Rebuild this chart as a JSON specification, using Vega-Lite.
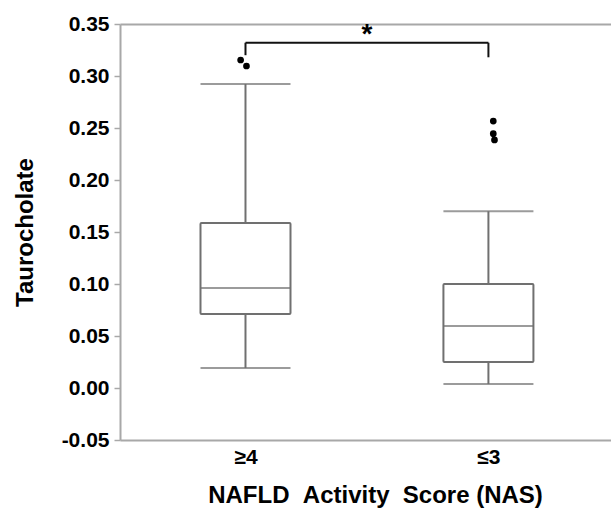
{
  "$schema": "https://vega.github.io/schema/vega-lite/v6.json",
  "width": 491,
  "height": 416,
  "autosize": {"type": "none"},
  "padding": {"left": 120, "top": 24, "right": 0, "bottom": 73},
  "background": "white",
  "config": {
    "view": {"stroke": null},
    "font": "Liberation Sans",
    "axis": {"grid": false}
  },
  "datasets": {
    "boxes": [
      {"g": 0, "group": "≥4", "lower": 0.0192, "q1": 0.0712, "median": 0.0962, "q3": 0.1587, "upper": 0.2923},
      {"g": 1, "group": "≤3", "lower": 0.0038, "q1": 0.025, "median": 0.0596, "q3": 0.100, "upper": 0.170}
    ],
    "outliers": [
      {"g": -0.02, "v": 0.3154},
      {"g": 0.004, "v": 0.3096},
      {"g": 1.02, "v": 0.2567},
      {"g": 1.02, "v": 0.2445},
      {"g": 1.025, "v": 0.2385}
    ],
    "bracket": [
      {"x": 0, "x2": 1, "y": 0.332, "y2": 0.332},
      {"x": 0, "x2": 0, "y": 0.320, "y2": 0.332},
      {"x": 1, "x2": 1, "y": 0.318, "y2": 0.332}
    ],
    "star": [{"x": 0.5, "y": 0.332, "label": "*"}]
  },
  "resolve": {"axis": {"x": "independent"}},
  "layer": [
    {
      "data": {"name": "boxes"},
      "mark": {"type": "rule", "color": "#707070", "strokeWidth": 2},
      "encoding": {
        "x": {
          "field": "g", "type": "quantitative",
          "scale": {"domain": [-0.496, 1.484], "nice": false, "zero": false},
          "axis": {
            "orient": "bottom",
            "values": [0, 1],
            "labelExpr": "datum.value == 0 ? '≥4' : '≤3'",
            "ticks": false,
            "domainColor": "#a8a8a8",
            "domainWidth": 2,
            "labelFont": "Liberation Sans",
            "labelFontWeight": "bold",
            "labelFontSize": 21,
            "labelColor": "#000000",
            "labelPadding": 6,
            "title": "NAFLD\u00a0\u00a0Activity\u00a0\u00a0Score (NAS)",
            "titleFont": "Liberation Sans",
            "titleFontWeight": "bold",
            "titleFontSize": 24,
            "titleColor": "#000000",
            "titlePadding": 16,
            "titleX": 255
          }
        },
        "y": {
          "field": "lower", "type": "quantitative",
          "scale": {"domain": [-0.05, 0.35], "nice": false, "zero": false},
          "axis": {
            "values": [-0.05, 0, 0.05, 0.1, 0.15, 0.2, 0.25, 0.3, 0.35],
            "labelExpr": "replace(format(datum.value, '.2f'), '−', '-')",
            "domainColor": "#a8a8a8",
            "domainWidth": 2,
            "tickColor": "#a8a8a8",
            "tickSize": 6,
            "tickWidth": 1.5,
            "labelFont": "Liberation Sans",
            "labelFontWeight": "bold",
            "labelFontSize": 21,
            "labelColor": "#000000",
            "labelPadding": 5,
            "title": "Taurocholate",
            "titleFont": "Liberation Sans",
            "titleFontWeight": "bold",
            "titleFontSize": 24,
            "titleColor": "#000000",
            "titlePadding": 24
          }
        },
        "y2": {"field": "q1"}
      }
    },
    {
      "data": {"name": "boxes"},
      "mark": {"type": "rule", "color": "#707070", "strokeWidth": 2},
      "encoding": {
        "x": {"field": "g", "type": "quantitative", "axis": null},
        "y": {"field": "q3", "type": "quantitative"},
        "y2": {"field": "upper"}
      }
    },
    {
      "data": {"name": "boxes"},
      "mark": {"type": "tick", "orient": "horizontal", "color": "#707070", "size": 90, "thickness": 2},
      "encoding": {
        "x": {"field": "g", "type": "quantitative", "axis": null},
        "y": {"field": "upper", "type": "quantitative"}
      }
    },
    {
      "data": {"name": "boxes"},
      "mark": {"type": "tick", "orient": "horizontal", "color": "#707070", "size": 90, "thickness": 2},
      "encoding": {
        "x": {"field": "g", "type": "quantitative", "axis": null},
        "y": {"field": "lower", "type": "quantitative"}
      }
    },
    {
      "data": {"name": "boxes"},
      "mark": {"type": "bar", "size": 90, "fill": "white", "stroke": "#707070", "strokeWidth": 2, "cornerRadius": 1},
      "encoding": {
        "x": {"field": "g", "type": "quantitative", "axis": null},
        "y": {"field": "q1", "type": "quantitative"},
        "y2": {"field": "q3"}
      }
    },
    {
      "data": {"name": "boxes"},
      "mark": {"type": "tick", "orient": "horizontal", "color": "#707070", "size": 90, "thickness": 2},
      "encoding": {
        "x": {"field": "g", "type": "quantitative", "axis": null},
        "y": {"field": "median", "type": "quantitative"}
      }
    },
    {
      "data": {"name": "outliers"},
      "mark": {"type": "circle", "color": "#000000", "opacity": 1, "size": 45},
      "encoding": {
        "x": {"field": "g", "type": "quantitative", "axis": null},
        "y": {"field": "v", "type": "quantitative"}
      }
    },
    {
      "data": {"name": "bracket"},
      "mark": {"type": "rule", "color": "#111111", "strokeWidth": 2},
      "encoding": {
        "x": {
          "field": "x", "type": "quantitative",
          "axis": {"orient": "top", "labels": false, "ticks": false, "title": null, "domainColor": "#a8a8a8", "domainWidth": 2}
        },
        "x2": {"field": "x2"},
        "y": {"field": "y", "type": "quantitative"},
        "y2": {"field": "y2"}
      }
    },
    {
      "data": {"name": "star"},
      "mark": {"type": "text", "font": "Liberation Sans", "fontWeight": "bold", "fontSize": 28, "color": "#000000", "baseline": "alphabetic", "align": "center"},
      "encoding": {
        "x": {"field": "x", "type": "quantitative", "axis": null},
        "y": {"field": "y", "type": "quantitative"},
        "text": {"field": "label"}
      }
    }
  ]
}
